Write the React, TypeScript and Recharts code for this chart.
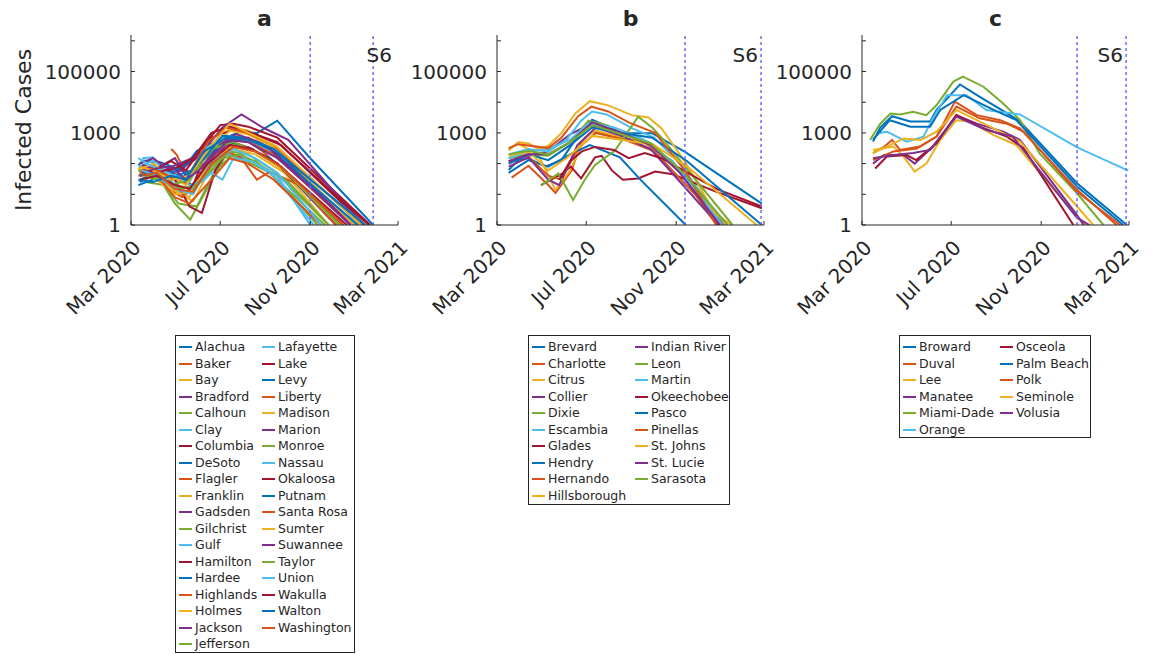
import React from 'react';
import { LineChart, Line, XAxis, YAxis, ReferenceLine } from 'recharts';

// MATLAB default colour order
const COLORS = ['#0072BD', '#D95319', '#EDB120', '#7E2F8E', '#77AC30', '#4DBEEE', '#A2142F'];

// x values are days since 2020-03-01
const X_TICKS = [0, 122, 245, 365];
const X_TICK_LABELS = ['Mar 2020', 'Jul 2020', 'Nov 2020', 'Mar 2021'];
const Y_TICKS = [1, 10, 100, 1000, 10000, 100000, 1000000];
const Y_TICK_LABELS: Record<number, string> = { 1: '1', 1000: '1000', 100000: '100000' };
const Y_MAX = 1550000;

// ---------- panel a ----------
const namesA = ['Alachua', 'Baker', 'Bay', 'Bradford', 'Calhoun', 'Clay', 'Columbia', 'DeSoto', 'Flagler', 'Franklin',
  'Gadsden', 'Gilchrist', 'Gulf', 'Hamilton', 'Hardee', 'Highlands', 'Holmes', 'Jackson', 'Jefferson',
  'Lafayette', 'Lake', 'Levy', 'Liberty', 'Madison', 'Marion', 'Monroe', 'Nassau', 'Okaloosa', 'Putnam',
  'Santa Rosa', 'Sumter', 'Suwannee', 'Taylor', 'Union', 'Wakulla', 'Walton', 'Washington'];
const seriesA: number[][][] = [
  [[10, 90], [17, 125], [40, 110], [70, 60], [90, 260], [122, 590], [149, 1100], [172, 980], [200, 2500], [245, 150], [331, 1]],
  [[12, 60], [30, 40], [55, 25], [75, 10], [95, 30], [125, 600], [150, 800], [180, 250], [290, 1]],
  [[10, 70], [30, 50], [55, 15], [80, 8], [105, 150], [135, 1500], [160, 1200], [200, 300], [300, 1]],
  [[12, 45], [30, 100], [50, 40], [70, 60], [95, 50], [130, 400], [160, 350], [200, 100], [285, 1]],
  [[40, 30], [60, 5], [81, 1.5], [100, 10], [130, 200], [150, 150], [190, 50], [265, 1]],
  [[10, 80], [30, 120], [55, 60], [80, 25], [105, 300], [135, 600], [165, 500], [200, 200], [310, 1]],
  [[12, 40], [30, 60], [60, 30], [85, 20], [110, 700], [140, 1300], [170, 900], [205, 400], [320, 1]],
  [[12, 25], [30, 40], [55, 60], [70, 80], [95, 200], [120, 500], [150, 400], [190, 150], [290, 1]],
  [[55, 300], [62, 200], [75, 50], [95, 70], [125, 500], [155, 600], [195, 200], [300, 1]],
  [[15, 30], [40, 40], [60, 12], [85, 6], [110, 80], [140, 300], [170, 200], [210, 50], [270, 1]],
  [[12, 60], [30, 80], [60, 50], [90, 150], [120, 600], [145, 900], [175, 500], [210, 150], [300, 1]],
  [[20, 25], [45, 20], [65, 5], [90, 4], [115, 60], [140, 200], [170, 120], [200, 30], [255, 1]],
  [[15, 150], [30, 160], [50, 40], [70, 10], [100, 30], [130, 200], [160, 150], [195, 40], [250, 1]],
  [[30, 80], [60, 30], [80, 4], [97, 2.5], [115, 60], [140, 500], [165, 300], [200, 100], [280, 1]],
  [[10, 20], [30, 30], [55, 50], [80, 120], [110, 400], [140, 450], [170, 250], [205, 80], [280, 1]],
  [[10, 40], [30, 50], [50, 15], [70, 8], [100, 60], [130, 250], [150, 160], [172, 30], [190, 55], [230, 20], [280, 1]],
  [[12, 50], [35, 30], [60, 10], [85, 12], [110, 150], [140, 400], [170, 250], [210, 60], [285, 1]],
  [[15, 90], [35, 70], [60, 150], [75, 40], [100, 100], [130, 600], [160, 500], [200, 150], [305, 1]],
  [[20, 40], [45, 25], [70, 15], [95, 25], [125, 150], [150, 200], [180, 80], [215, 25], [270, 1]],
  [[40, 100], [60, 60], [80, 20], [100, 30], [110, 50], [125, 30], [140, 150], [165, 120], [200, 40], [245, 1]],
  [[12, 80], [30, 60], [55, 120], [75, 60], [100, 400], [122, 1800], [140, 2000], [160, 1600], [200, 700], [327, 1]],
  [[12, 30], [35, 50], [60, 40], [85, 60], [115, 300], [145, 700], [175, 500], [210, 200], [315, 1]],
  [[20, 50], [40, 30], [60, 8], [80, 5], [110, 30], [135, 150], [160, 100], [195, 30], [260, 1]],
  [[10, 60], [30, 100], [55, 40], [75, 20], [105, 200], [135, 1200], [160, 900], [200, 300], [305, 1]],
  [[12, 100], [30, 150], [50, 70], [70, 110], [95, 200], [125, 1500], [151, 4000], [180, 1500], [215, 600], [318, 1]],
  [[10, 60], [30, 40], [55, 20], [80, 30], [110, 300], [140, 500], [170, 250], [205, 80], [285, 1]],
  [[10, 150], [25, 90], [50, 50], [75, 30], [100, 300], [130, 800], [160, 600], [200, 250], [320, 1]],
  [[12, 40], [30, 50], [60, 70], [85, 150], [110, 1000], [135, 1600], [165, 1000], [200, 500], [325, 1]],
  [[12, 40], [30, 50], [55, 30], [75, 40], [100, 150], [125, 800], [155, 700], [190, 300], [310, 1]],
  [[12, 50], [30, 70], [50, 40], [75, 30], [105, 500], [130, 1500], [155, 1100], [195, 400], [315, 1]],
  [[12, 80], [30, 60], [55, 30], [80, 40], [110, 400], [135, 2000], [165, 900], [200, 350], [315, 1]],
  [[15, 50], [35, 70], [55, 80], [75, 30], [100, 80], [130, 500], [160, 700], [190, 300], [300, 1]],
  [[20, 40], [40, 30], [60, 20], [85, 15], [110, 80], [135, 250], [160, 200], [195, 60], [270, 1]],
  [[15, 60], [35, 40], [60, 15], [85, 10], [110, 120], [140, 300], [170, 150], [200, 50], [260, 1]],
  [[12, 30], [35, 40], [60, 20], [80, 15], [105, 100], [135, 400], [165, 300], [200, 100], [295, 1]],
  [[10, 30], [30, 25], [55, 40], [75, 30], [100, 250], [130, 700], [160, 600], [195, 300], [320, 1]],
  [[15, 40], [35, 50], [60, 15], [85, 12], [110, 100], [140, 350], [170, 250], [205, 80], [290, 1]],
];
const vlinesA = [245, 331];

// ---------- panel b ----------
const namesB = ['Brevard', 'Charlotte', 'Citrus', 'Collier', 'Dixie', 'Escambia', 'Glades', 'Hendry', 'Hernando',
  'Hillsborough', 'Indian River', 'Leon', 'Martin', 'Okeechobee', 'Pasco', 'Pinellas', 'St. Johns', 'St. Lucie', 'Sarasota'];
const seriesB: number[][][] = [
  [[16, 62], [29, 130], [43, 150], [66, 80], [88, 130], [107, 590], [130, 2700], [152, 1600], [170, 1000], [212, 980], [257, 240], [362, 5]],
  [[20, 35], [43, 85], [70, 20], [80, 11], [102, 60], [115, 500], [130, 1100], [160, 800], [200, 500], [240, 120], [300, 1]],
  [[16, 300], [29, 450], [56, 200], [80, 14], [100, 60], [120, 700], [135, 1200], [170, 700], [210, 400], [250, 60], [310, 1]],
  [[16, 120], [43, 180], [70, 250], [100, 900], [125, 1800], [140, 1600], [175, 900], [210, 450], [250, 60], [303, 1]],
  [[16, 150], [43, 200], [70, 180], [100, 500], [125, 2500], [150, 1800], [185, 900], [215, 400], [260, 30], [315, 1]],
  [[16, 200], [43, 300], [70, 250], [95, 600], [115, 2500], [130, 5000], [150, 4000], [185, 1400], [215, 700], [250, 100], [310, 1]],
  [[60, 20], [88, 45], [101, 80], [115, 33], [134, 160], [143, 180], [157, 60], [172, 30], [193, 33], [216, 55], [240, 45], [300, 12], [362, 3.5]],
  [[16, 50], [43, 130], [70, 80], [100, 200], [127, 400], [168, 160], [196, 30], [258, 1]],
  [[16, 100], [40, 200], [70, 40], [88, 30], [110, 300], [135, 1000], [175, 600], [215, 250], [310, 1]],
  [[16, 270], [29, 500], [43, 450], [57, 300], [70, 380], [88, 980], [107, 4300], [127, 10800], [152, 7900], [184, 3800], [207, 3200], [225, 1400], [257, 115], [298, 2.4], [321, 1]],
  [[16, 80], [43, 160], [70, 30], [85, 20], [110, 400], [135, 1500], [170, 800], [210, 300], [303, 1]],
  [[61, 20], [84, 48], [104, 6.5], [120, 30], [134, 90], [161, 260], [193, 3400], [212, 1500], [225, 700], [257, 80], [322, 1]],
  [[16, 150], [43, 250], [70, 300], [100, 600], [125, 2000], [160, 1500], [200, 600], [240, 120], [308, 1]],
  [[85, 30], [100, 120], [116, 250], [134, 350], [160, 280], [180, 150], [202, 220], [225, 150], [300, 15], [362, 4]],
  [[16, 100], [43, 200], [70, 130], [100, 400], [130, 1500], [160, 1100], [212, 700], [260, 120], [362, 1]],
  [[16, 320], [29, 430], [70, 320], [88, 700], [111, 3500], [129, 7200], [152, 5000], [180, 2200], [216, 1000], [257, 60], [300, 1]],
  [[16, 180], [43, 250], [70, 60], [95, 150], [130, 800], [170, 600], [215, 400], [260, 80], [355, 1]],
  [[16, 120], [43, 200], [70, 200], [100, 500], [130, 2200], [170, 1000], [210, 400], [250, 50], [305, 1]],
  [[16, 200], [43, 260], [70, 200], [100, 500], [130, 1800], [170, 900], [210, 450], [255, 50], [315, 1]],
];
const vlinesB = [257, 361];

// ---------- panel c ----------
const namesC = ['Broward', 'Duval', 'Lee', 'Manatee', 'Miami-Dade', 'Orange', 'Osceola', 'Palm Beach', 'Polk', 'Seminole', 'Volusia'];
const seriesC: number[][][] = [
  [[15, 520], [25, 1500], [41, 3500], [66, 2350], [93, 2350], [102, 5600], [134, 38000], [161, 15000], [198, 4400], [216, 2350], [294, 23], [362, 1]],
  [[15, 220], [30, 350], [41, 590], [52, 280], [79, 360], [102, 760], [127, 10500], [157, 3800], [189, 2600], [216, 1400], [294, 14], [348, 1]],
  [[15, 280], [43, 360], [57, 170], [72, 55], [88, 100], [107, 590], [129, 2600], [148, 2350], [180, 850], [211, 400], [294, 1.9], [307, 1]],
  [[15, 100], [30, 190], [57, 190], [72, 100], [97, 360], [129, 3800], [157, 2000], [193, 1100], [216, 590], [294, 2.1], [303, 1]],
  [[11, 590], [25, 2000], [39, 4300], [52, 4000], [70, 4900], [88, 3800], [102, 8100], [125, 47000], [138, 68000], [166, 32000], [193, 9100], [216, 2600], [243, 210], [294, 10.7], [330, 1]],
  [[24, 1000], [34, 1100], [61, 520], [84, 750], [97, 3000], [116, 17000], [143, 17000], [170, 5600], [216, 4000], [294, 340], [364, 59]],
  [[18, 69], [34, 170], [61, 190], [74, 130], [102, 460], [129, 3800], [161, 1600], [198, 760], [221, 320], [289, 1]],
  [[15, 600], [38, 2600], [66, 1600], [93, 1600], [107, 5600], [139, 17000], [180, 5600], [211, 2600], [294, 18], [357, 1]],
  [[15, 130], [43, 250], [75, 310], [102, 760], [129, 7200], [161, 3000], [198, 2000], [221, 1100], [294, 12], [353, 1]],
  [[15, 220], [34, 360], [57, 660], [80, 590], [102, 1100], [129, 5600], [161, 2350], [189, 1100], [216, 520], [294, 4], [316, 1]],
  [[15, 150], [43, 190], [70, 220], [93, 280], [129, 3400], [170, 1250], [206, 760], [294, 1.7], [311, 1]],
];
const vlinesC = [294, 361];

const FONT = "'DejaVu Sans', sans-serif";
const INK = '#262626';
const PLOT_W = 267;
const PLOT_TOP = 35;
const Y_AXIS_W = 100;
const RIGHT_PAD = 50;

const XTick = (props: any) => {
  const { x, y, payload } = props;
  const idx = X_TICKS.indexOf(payload.value);
  return (
    <g>
      <line x1={x} x2={x} y1={y} y2={y - 4} stroke={INK} strokeWidth={1} />
      <text transform={`translate(${x + 6},${y + 19}) rotate(-45)`} textAnchor="end" dominantBaseline="central"
        fontSize={20} fill={INK} fontFamily={FONT}>{X_TICK_LABELS[idx]}</text>
    </g>
  );
};

const YTick = (props: any) => {
  const { x, y, payload } = props;
  const lbl = Y_TICK_LABELS[payload.value] || '';
  return (
    <g>
      <line x1={x} x2={x + 4} y1={y} y2={y} stroke={INK} strokeWidth={1} />
      {lbl ? (
        <text x={x - 10} y={y} textAnchor="end" dominantBaseline="central" fontSize={20} fill={INK} fontFamily={FONT}>{lbl}</text>
      ) : null}
    </g>
  );
};

function Panel({ plotLeft, series, vlines }: { plotLeft: number; series: number[][][]; vlines: number[] }) {
  return (
    <div style={{ position: 'absolute', left: plotLeft - Y_AXIS_W, top: PLOT_TOP - 10 }}>
      <LineChart width={Y_AXIS_W + PLOT_W + RIGHT_PAD} height={300} margin={{ top: 10, right: RIGHT_PAD, bottom: 0, left: 0 }}
        style={{ overflow: 'visible' }}>
        <XAxis type="number" dataKey="d" domain={[0, 365]} ticks={X_TICKS} interval={0} allowDataOverflow
          tick={<XTick />} tickSize={0} tickMargin={0} tickLine={false} height={100}
          axisLine={{ stroke: INK, strokeWidth: 1 }} />
        <YAxis type="number" scale="log" domain={[1, Y_MAX]} ticks={Y_TICKS} interval={0} allowDataOverflow
          tick={<YTick />} tickSize={0} tickMargin={0} tickLine={false} width={Y_AXIS_W}
          axisLine={{ stroke: INK, strokeWidth: 1 }} />
        {series.map((s, i) => (
          <Line key={i} data={s.map(([d, v]) => ({ d, v }))} dataKey="v" type="linear" stroke={COLORS[i % 7]}
            strokeWidth={2} dot={false} activeDot={false} isAnimationActive={false} />
        ))}
        {vlines.map((v, i) => (
          <ReferenceLine key={'r' + i} x={v} stroke="#6b6bff" strokeDasharray="3 3" strokeWidth={1.5} />
        ))}
      </LineChart>
    </div>
  );
}

function LegendBox({ left, top, width, height, col2, names }:
  { left: number; top: number; width: number; height: number; col2: number; names: string[] }) {
  const rows = Math.ceil(names.length / 2);
  return (
    <div style={{ position: 'absolute', left, top, width, height, border: `1px solid ${INK}`, boxSizing: 'border-box', background: '#fff' }}>
      {names.map((n, i) => {
        const col = i < rows ? 0 : 1;
        const r = col === 0 ? i : i - rows;
        const cx = col === 0 ? 0 : col2;
        const cy = Math.round(11 + r * 16.5);
        return (
          <React.Fragment key={n}>
            <div style={{ position: 'absolute', left: cx + 3, top: cy - 1, width: 13, height: 2, background: COLORS[i % 7] }} />
            <div style={{ position: 'absolute', left: cx + 19, top: cy - 8, fontSize: 12.5, lineHeight: '16px', color: INK, fontFamily: FONT, whiteSpace: 'nowrap' }}>{n}</div>
          </React.Fragment>
        );
      })}
    </div>
  );
}

const abs = (left: number, top: number, extra: React.CSSProperties = {}): React.CSSProperties => ({
  position: 'absolute', left, top, fontFamily: FONT, color: INK, whiteSpace: 'nowrap', ...extra,
});

export default function App() {
  const panels = [
    { left: 131, title: 'a', series: seriesA, vlines: vlinesA },
    { left: 497, title: 'b', series: seriesB, vlines: vlinesB },
    { left: 862, title: 'c', series: seriesC, vlines: vlinesC },
  ];
  return (
    <div style={{ position: 'absolute', left: 0, top: 0, width: 1154, height: 654, background: '#fff', overflow: 'hidden', fontFamily: FONT }}>
      {panels.map((p) => (
        <React.Fragment key={p.title}>
          <Panel plotLeft={p.left} series={p.series} vlines={p.vlines} />
          <div style={abs(p.left, 8, { width: PLOT_W, textAlign: 'center', fontSize: 22, fontWeight: 'bold', lineHeight: '22px' })}>{p.title}</div>
          <div style={abs(p.left + PLOT_W - 80, 45, { width: 74, textAlign: 'right', fontSize: 20, lineHeight: '20px' })}>S6</div>
        </React.Fragment>
      ))}
      <div style={abs(24, 130, { fontSize: 22, lineHeight: '22px', transform: 'translate(-50%,-50%) rotate(-90deg)' })}>Infected Cases</div>
      <LegendBox left={175} top={335} width={180} height={318} col2={83} names={namesA} />
      <LegendBox left={528} top={335} width={202} height={170} col2={103} names={namesB} />
      <LegendBox left={899} top={335} width={192} height={103} col2={97} names={namesC} />
    </div>
  );
}
